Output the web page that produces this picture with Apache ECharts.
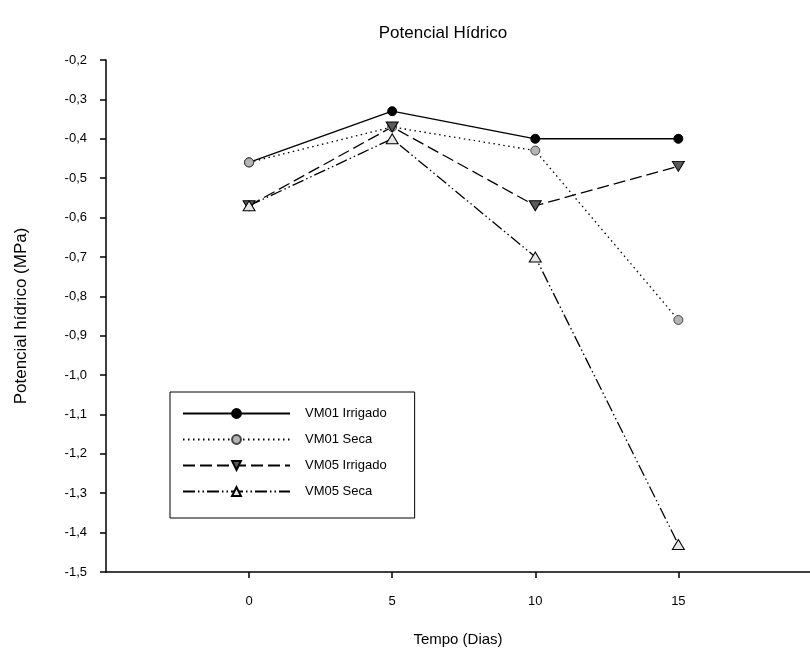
<!DOCTYPE html>
<html>
<head>
<meta charset="utf-8">
<script src="https://cdn.jsdelivr.net/npm/echarts@6/dist/echarts.min.js"></script>
<style>
  html, body { margin: 0; padding: 0; background: #fff; }
  #chart { width: 810px; height: 659px; }
</style>
</head>
<body>
<div id="chart"></div>
<script>
// Tempo (dias) das avaliações
const dias = [0, 5, 10, 15];
// Potencial hídrico (MPa) por tratamento
const vm01Irrigado = [-0.46, -0.33, -0.40, -0.40];
const vm01Seca     = [-0.46, -0.37, -0.43, -0.86];
const vm05Irrigado = [-0.57, -0.37, -0.57, -0.47];
const vm05Seca     = [-0.57, -0.40, -0.70, -1.43];
const nomes = ['VM01 Irrigado', 'VM01 Seca', 'VM05 Irrigado', 'VM05 Seca'];
const ticksX = [0, 5, 10, 15];

const FONT = '"Liberation Sans", Arial, sans-serif';
const pares = v => dias.map((d, i) => [d, v[i]]);

const chart = echarts.init(document.getElementById('chart'), null, { renderer: 'canvas' });

chart.setOption({
  backgroundColor: '#ffffff',
  animation: false,
  title: {
    text: 'Potencial Hídrico',
    left: 438, top: 20, textAlign: 'center',
    textStyle: { fontFamily: FONT, fontSize: 17, fontWeight: 'normal', color: '#000' }
  },
  grid: { left: 106, right: 0, top: 60, bottom: 87 },
  legend: {
    orient: 'vertical',
    left: 170, top: 392,
    data: nomes,
    itemWidth: 107, itemHeight: 11, itemGap: 13,
    padding: [15, 28, 20, 12],
    borderColor: '#000', borderWidth: 1,
    textStyle: { fontFamily: FONT, fontSize: 13, color: '#000', padding: [0, 0, 0, 10] }
  },
  xAxis: {
    type: 'value',
    min: -5, max: 19.6,
    name: 'Tempo (Dias)', nameLocation: 'middle', nameGap: 60,
    nameTextStyle: { fontFamily: FONT, fontSize: 15, color: '#000' },
    axisLine: { show: true, onZero: false, lineStyle: { color: '#000', width: 1.5 } },
    axisTick: { show: true, length: 6, customValues: ticksX, lineStyle: { color: '#000', width: 1.5 } },
    axisLabel: { customValues: ticksX, margin: 23, fontFamily: FONT, fontSize: 13, color: '#000' },
    splitLine: { show: false }
  },
  yAxis: {
    type: 'value',
    min: -1.5, max: -0.2, interval: 0.1,
    name: 'Potencial hídrico (MPa)', nameLocation: 'middle', nameGap: 76, nameRotate: 90,
    nameTextStyle: { fontFamily: FONT, fontSize: 17, color: '#000' },
    axisLine: { show: true, onZero: false, lineStyle: { color: '#000', width: 1.5 } },
    axisTick: { show: true, length: 6, lineStyle: { color: '#000', width: 1.5 } },
    axisLabel: {
      margin: 19, fontFamily: FONT, fontSize: 13, color: '#000',
      formatter: v => v.toFixed(1).replace('.', ',')
    },
    splitLine: { show: false }
  },
  series: [
    {
      name: nomes[0], type: 'line', data: pares(vm01Irrigado),
      symbol: 'circle', symbolSize: 9,
      lineStyle: { color: '#000', width: 1.3, type: 'solid' },
      itemStyle: { color: '#000', borderColor: '#000', borderWidth: 1 }
    },
    {
      name: nomes[1], type: 'line', data: pares(vm01Seca),
      symbol: 'circle', symbolSize: 9,
      lineStyle: { color: '#000', width: 1.3, type: [1.5, 3.5] },
      itemStyle: { color: '#b4b4b4', borderColor: '#444', borderWidth: 1 }
    },
    {
      name: nomes[2], type: 'line', data: pares(vm05Irrigado),
      symbol: 'triangle', symbolRotate: 180, symbolSize: [12, 10],
      lineStyle: { color: '#000', width: 1.3, type: [12, 5] },
      itemStyle: { color: '#5a5a5a', borderColor: '#000', borderWidth: 1 }
    },
    {
      name: nomes[3], type: 'line', data: pares(vm05Seca),
      symbol: 'triangle', symbolSize: [12, 10],
      lineStyle: { color: '#000', width: 1.3, type: [12, 3, 1.5, 3, 1.5, 3] },
      itemStyle: { color: '#e6e6e6', borderColor: '#000', borderWidth: 1 }
    }
  ]
});
</script>
</body>
</html>
